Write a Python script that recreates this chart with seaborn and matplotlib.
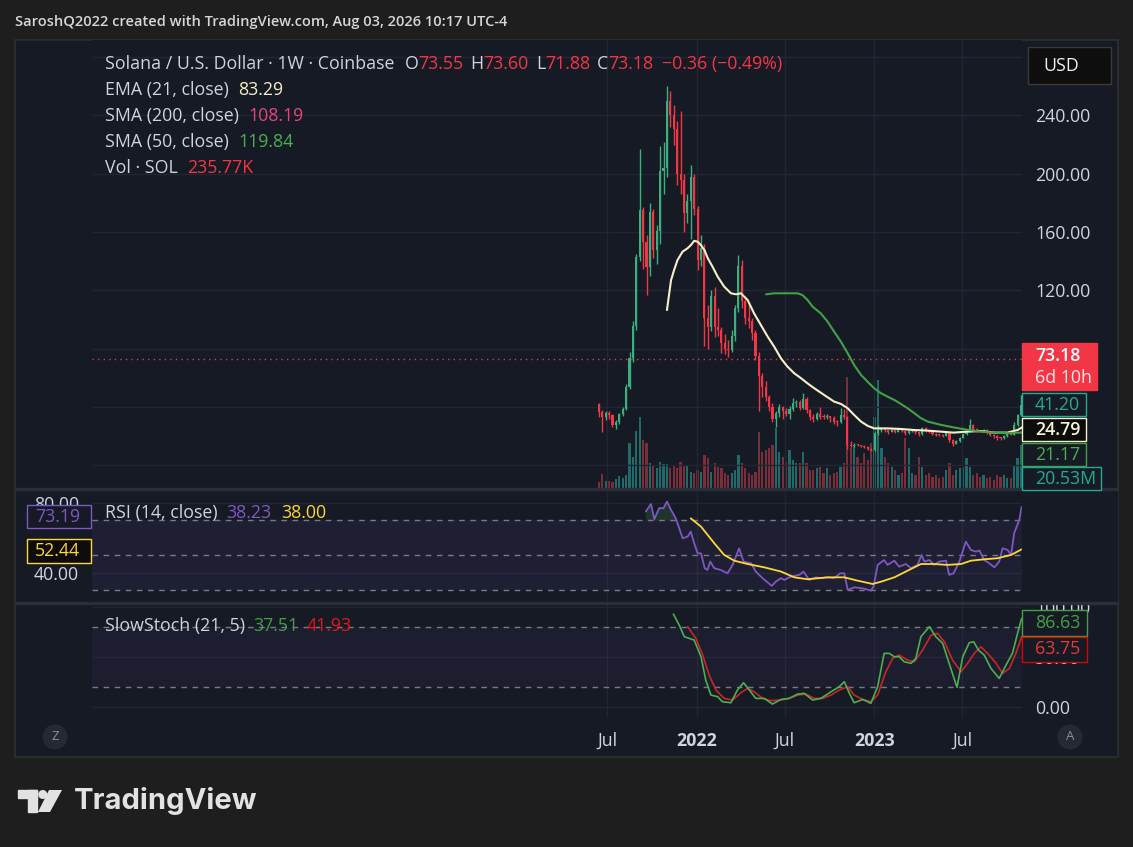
import numpy as np
import pandas as pd
import matplotlib
matplotlib.use("Agg")
import matplotlib.pyplot as plt
import seaborn as sns
from matplotlib.patches import Rectangle, Ellipse, Polygon

# weekly SOL/USD candles (Coinbase), week 0 = 2021-06-14
start_date = "2021-06-14"
first_open = 41.8
closes = [36.8, 33.0, 36.0, 34.5, 27.6, 29.8, 35.0, 38.6, 54.0, 73.3, 95.8, 143, 175, 153, 136, 174, 148, 161, 202, 204,
          250, 240, 231, 200, 196, 173, 181, 198, 176, 141, 149, 101, 95, 116, 95, 93, 84, 80, 79, 89,
          108, 137, 113, 101, 99, 91, 75, 61, 54, 47, 40, 31.5, 35.6, 40, 37, 35, 38.5, 42.5, 43.6, 39.5,
          45.5, 38, 33.4, 31.7, 35.4, 33.4, 33, 33.8, 32.2, 30, 29.8, 34.5, 33, 14, 13.3, 14, 13.8, 13.3, 12.5, 11.5,
          10.2, 22, 24.5, 25.5, 24, 23, 24.5, 23, 24.5, 23.5, 22, 23.5, 24.5, 22.5, 21.5, 25.5, 24, 22.5, 21.5, 21,
          20.8, 20.4, 22, 17.5, 14.8, 16.5, 19, 21.5, 23, 27.5, 24.5, 24, 23.5, 24.2, 22.5, 21, 20, 19, 18.7, 19.8,
          21.5, 21, 27.5, 34.5, 41.2]
highs = [42.5, 38, 37.5, 37, 35, 31, 36, 40, 56, 78, 99, 145, 217, 177, 158, 180, 176, 165, 219, 222,
         260.5, 257, 247, 236, 243, 200, 186, 206, 200, 178, 158, 152, 110, 120, 122, 108, 95, 90, 86, 93,
         110, 144, 141, 116, 112, 101, 93, 78, 63, 58, 48, 43, 37, 42, 41, 39, 40.5, 46, 45, 44.5,
         49.5, 47, 38.5, 35, 36.5, 40, 35.5, 35, 34, 33.5, 31, 39, 38.5, 33.5, 16.5, 15, 14.8, 14.2, 13.9, 12.9,
         12, 23, 27.5, 26.5, 26, 24.5, 25.5, 25, 25.5, 25, 24, 24, 25, 24.5, 23, 26.5, 26, 24.5, 23, 22,
         21.5, 21.5, 23, 22.5, 17.8, 17, 19.5, 22, 24, 32, 28, 25.5, 24.5, 25, 25, 23, 21.5, 20.5, 19.5, 20.5,
         22, 22.5, 30, 35, 48]
lows = [33, 22.5, 31, 32, 26.5, 25, 28.5, 34, 38, 52, 71, 93, 140, 135, 117, 130, 142, 138, 152, 186,
        198, 232, 220, 192, 186, 160, 166, 155, 172, 134, 137, 81.5, 80, 92, 88, 89, 77, 76.5, 74, 78,
        85, 105, 108, 97, 94, 86, 72, 37, 47, 44, 37, 30, 26, 33, 32, 33.5, 31.5, 37, 40, 38,
        38.5, 36, 31, 30, 31, 32, 31.5, 31.5, 30, 28.5, 27, 29, 31.5, 11, 12.5, 12.8, 12.9, 12.5, 11.7, 10.8,
        9.5, 9.8, 21, 22.5, 23, 21.5, 22.5, 22, 22.5, 22.5, 21, 21.5, 22.5, 21.5, 20, 21, 23, 22, 21, 20,
        20, 19.5, 20, 16, 13.5, 14.5, 16, 18.5, 21, 22.5, 23.5, 23, 22.5, 22.5, 21.5, 20, 19, 17.5, 17.5, 18,
        19.5, 20.5, 20.8, 27, 34]
volume_m = [2.9, 6.7, 3.4, 3.4, 2.9, 4.3, 5.8, 4.8, 6.2, 21.6, 14.9, 27.4, 34.1, 23.0, 21.6, 12.0, 10.6, 9.6, 12.5, 11.5,
            11.5, 9.6, 11.0, 9.6, 12.5, 10.6, 10.6, 7.7, 7.2, 8.6, 7.7, 15.8, 14.4, 7.7, 12.0, 10.1, 9.6, 7.2, 6.2, 7.2,
            8.6, 15.8, 12.0, 9.6, 7.2, 6.2, 7.7, 26.9, 17.3, 18.2, 19.2, 20.6, 28.8, 17.3, 14.9, 12.5, 18.2, 13.4, 12.0, 12.0,
            17.3, 12.0, 8.6, 8.6, 9.6, 10.1, 7.2, 9.6, 6.2, 7.2, 7.7, 10.1, 12.0, 53.3, 19.2, 19.7, 14.9, 12.0, 16.8, 13.4,
            21.6, 34.1, 51.8, 19.2, 14.9, 12.0, 10.1, 8.6, 6.2, 7.2, 24.0, 19.2, 7.2, 6.2, 14.9, 10.1, 6.2, 7.2, 5.3, 6.2,
            4.8, 5.3, 8.6, 12.0, 6.2, 8.6, 9.6, 10.1, 14.4, 10.1, 6.2, 7.2, 5.3, 6.2, 4.8, 5.3, 3.8, 6.2, 5.3, 6.2,
            4.8, 4.8, 11.0, 14.4, 20.6]

ema_week = [20, 21.2, 22.1, 23.1, 24.6, 26, 27, 28, 29, 30, 31, 32, 33.4, 34.9, 36.8, 38.8, 40.3, 41.7, 43.7, 45.6,
            47.6, 49.6, 51.5, 53.5, 55.4, 57.4, 59.4, 61.3, 63.3, 66.2, 69.1, 71.1, 73.1, 75, 77, 79, 80.9, 84.8, 88.7,
            92.6, 96.4, 100.3, 104.2, 108.3, 112.2, 116.1, 120, 123, 124.3]
ema_val = [106.5, 127, 134, 140.8, 146.6, 148.8, 151, 154, 153.4, 151, 147.7, 142, 136.2, 129.4, 122.6, 118, 117.3, 118,
           113.4, 104.2, 96.2, 88.2, 81.4, 73.3, 67.7, 63.1, 59.7, 56.2, 52.8, 48.2, 43.7, 42.1, 39.1, 34.5, 30, 27,
           25.3, 25.3, 24.9, 24.2, 23.8, 23.1, 22.4, 23.1, 23.5, 22.4, 22.4, 24.2, 26]
sma50_week = [49.1, 51.5, 54.5, 58.4, 59.8, 61.3, 62.8, 65.2, 67.2, 69.1, 71.1, 73.1, 75, 77, 78.9, 80.9, 82.9, 84.8,
              86.8, 88.7, 90.7, 92.7, 94.6, 96.6, 100.5, 104.4, 108.3, 112.2, 116.1, 120.1, 124.3]
sma50_val = [117.3, 118, 118, 118, 116.8, 113.4, 108.8, 104.2, 98.5, 91.7, 84.8, 76.8, 68.8, 62, 57.4, 52.8, 49.4, 47.1,
             44.8, 42.1, 39.1, 35.7, 32.3, 30, 27.7, 25.9, 24.3, 23.1, 22.4, 22, 22.5]

rsi_week = [13.8, 15.3, 16.3, 17.7, 19.0, 20.0, 21.2, 22.6, 23.6, 24.6, 26.1, 27.0, 28.0, 29.0, 30.0, 31.1, 31.9, 32.7,
            33.9, 35.8, 37.8, 39.3, 41.2, 42.5, 44.7, 46.1, 48.1, 50.8, 52.0, 53.5, 54.5, 55.9, 57.4, 58.9, 60.1, 61.8,
            63.8, 65.2, 67.2, 69.1, 70.9, 72.1, 73.1, 75.0, 77.5, 79.9, 80.7, 81.9, 83.8, 84.8, 86.8, 88.2, 90.2, 91.7,
            93.6, 94.8, 95.6, 97.1, 98.5, 100.0, 102.0, 102.9, 104.2, 105.9, 107.8, 109.3, 110.8, 111.8, 113.2, 114.7,
            116.2, 117.6, 118.6, 120.1, 121.1, 122.0, 123.5, 124.2]
rsi_val = [75.1, 79.4, 70.7, 77.0, 77.0, 80.8, 76.0, 71.2, 65.5, 59.8, 60.8, 63.6, 57.0, 51.2, 51.2, 42.7, 41.7, 46.5,
           42.7, 41.7, 39.8, 44.6, 54.1, 46.5, 45.5, 40.8, 37.0, 32.6, 35.1, 37.0, 36.0, 37.5, 38.3, 38.9, 40.8, 36.0,
           37.5, 37.0, 37.5, 37.0, 39.8, 39.8, 30.3, 31.8, 31.2, 29.9, 32.2, 44.6, 47.4, 44.6, 47.0, 43.6, 45.1, 42.7,
           44.6, 50.3, 46.5, 47.4, 44.6, 46.5, 47.0, 38.9, 39.8, 46.5, 57.9, 53.1, 52.2, 52.8, 47.4, 45.5,
           43.2, 46.5, 54.1, 53.1, 50.3, 62.7, 70.3, 77.9]
rsi_ma_week = [27.0, 30.0, 33.9, 36.8, 39.8, 43.7, 48.6, 53.5, 57.4, 61.3, 67.2, 72.1, 76.0, 80.4, 82.9, 86.8, 90.7,
               94.6, 98.5, 102.4, 106.4, 109.3, 113.2, 117.1, 121.1, 124.2]
rsi_ma_val = [71.2, 66.5, 57.0, 50.3, 47.0, 45.1, 43.2, 40.8, 37.5, 36.4, 37.5, 37.5, 35.6, 33.7, 35.0, 37.5, 41.3,
              45.1, 45.1, 44.6, 45.1, 47.0, 47.8, 48.4, 50.3, 53.5]

stoch_k_week = [21.9, 23.6, 25.1, 28.0, 30.0, 31.4, 32.9, 34.9, 36.3, 38.8, 40.7, 42.5, 44.2, 46.1, 48.6, 51.0, 53.5,
                55.9, 58.4, 60.3, 62.8, 65.2, 68.2, 70.6, 72.1, 73.6, 75.0, 77.5, 79.9, 81.9, 83.8, 85.3, 86.8, 88.2,
                89.7, 91.7, 93.1, 94.6, 97.1, 99.0, 101.0, 102.9, 105.2, 106.9, 108.8, 110.1, 111.5, 113.2, 115.2,
                117.6, 119.6, 121.5, 123.0, 124.2]
stoch_k_val = [92.5, 81.6, 70.1, 66.8, 50.3, 27.2, 12.3, 10.7, 5.7, 4.7, 17.3, 24.5, 17.3, 9.0, 9.0, 3.4, 8.0, 9.0,
               13.3, 14.0, 7.4, 9.0, 15.6, 20.6, 25.5, 14.0, 4.7, 8.0, 4.1, 20.6, 53.6, 53.6, 50.3, 50.3, 45.3, 43.7,
               48.6, 70.1, 80.0, 70.1, 63.5, 43.7, 20.0, 50.3, 64.1, 65.1, 56.9, 51.9, 38.7, 28.8, 42.0, 53.6, 73.4, 88.2]
stoch_d_week = [26.1, 28.5, 30.5, 32.4, 34.4, 36.8, 39.3, 41.7, 43.7, 45.6, 48.1, 50.5, 53.5, 55.9, 58.4, 60.8, 63.3,
                65.7, 68.2, 70.6, 73.1, 75.0, 77.5, 79.9, 81.9, 84.3, 86.3, 88.2, 90.7, 92.7, 95.1, 97.6, 99.5, 101.5,
                103.9, 106.4, 108.3, 110.3, 112.2, 114.2, 116.7, 118.6, 120.6, 122.5, 124.2]
stoch_d_val = [80.0, 68.4, 51.9, 32.1, 17.3, 9.0, 7.4, 14.6, 19.0, 15.6, 9.0, 6.7, 7.4, 9.0, 12.3, 13.3, 9.0, 9.0,
               12.3, 17.3, 20.6, 12.3, 8.0, 5.7, 12.3, 35.4, 48.6, 51.9, 46.9, 45.3, 56.9, 71.7, 73.4, 65.1, 46.9,
               35.4, 43.7, 53.6, 60.2, 53.6, 43.7, 33.8, 38.7, 53.6, 70.1]

time_dates = ["2021-07-01", "2022-01-01", "2022-07-01", "2023-01-01", "2023-07-01"]
time_labels = ["Jul", "2022", "Jul", "2023", "Jul"]
price_ticks = [0, 40, 80, 120, 160, 200, 240, 280]
price_labels = ["", "", "80.00", "120.00", "160.00", "200.00", "240.00", ""]
last_price = 73.18

# ---- style ----
W, H = 1133, 847
OUTER = "#1e1e1e"
PANE = "#161a25"
GRID = "#222633"
TXT = "#d1d4dc"
UP, DOWN = "#3bb07e", "#f23645"
VUP, VDOWN = "#1f6b69", "#7a2e3a"
TEAL = "#22ab94"
FS = 12.8  # pane text size

sns.set_theme(style="dark", rc={"axes.facecolor": PANE, "figure.facecolor": OUTER,
                                "grid.color": GRID, "text.color": TXT,
                                "xtick.color": TXT, "ytick.color": TXT})
plt.rcParams["font.family"] = ["Open Sans", "DejaVu Sans"]

fig = plt.figure(figsize=(W / 100, H / 100), dpi=100)


def rect(x0, y0, x1, y1):
    return [x0 / W, 1 - y1 / H, (x1 - x0) / W, (y1 - y0) / H]


def fbox(x0, y0, x1, y1, face, edge=None, lw=1.0, z=5):
    fig.add_artist(Rectangle((x0 / W, 1 - y1 / H), (x1 - x0) / W, (y1 - y0) / H, transform=fig.transFigure,
                             facecolor=face, edgecolor=edge if edge else face, lw=lw, zorder=z))


def ftext(x, y, s, color=TXT, size=FS, ha="left", weight="normal", z=6, **kw):
    return fig.text(x / W, 1 - y / H, s, color=color, fontsize=size, ha=ha, va="center",
                    fontweight=weight, zorder=z, **kw)


renderer = fig.canvas.get_renderer()


def runs(x, y, parts, size=FS):
    for s, col, gap in parts:
        t = ftext(x, y, s, col, size)
        x += t.get_window_extent(renderer).width + gap


# chart frame
fbox(15, 40, 1118, 757, PANE, "#2e2f33", lw=1.2, z=-1)

weeks = np.arange(len(closes))
opens = [first_open] + closes[:-1]
start = pd.Timestamp(start_date)
tick_pos = [(pd.Timestamp(d) - start).days / 7 for d in time_dates]
xlim = (-148.9, 124.3)

main_r = rect(92, 40, 1022, 488)
ax_vol = fig.add_axes(main_r)
ax_main = fig.add_axes(main_r)
ax_rsi = fig.add_axes(rect(92, 490, 1022, 602))
ax_sto = fig.add_axes(rect(92, 604, 1022, 718))

for ax in (ax_vol, ax_main, ax_rsi, ax_sto):
    ax.set_xlim(*xlim)
    for sp in ax.spines.values():
        sp.set_visible(False)
ax_main.patch.set_alpha(0)

# volume
vcols = [VUP if c >= o else VDOWN for o, c in zip(opens, closes)]
ax_vol.bar(weeks, volume_m, width=0.65, color=vcols, linewidth=0)
ax_vol.set_ylim(0, 215)
ax_vol.set_xticks([])
ax_vol.set_yticks([])

# candles
ccols = [UP if c >= o else DOWN for o, c in zip(opens, closes)]
body_lo = np.minimum(opens, closes)
body_h = np.maximum(np.abs(np.array(closes) - np.array(opens)), 0.6)
ax_main.vlines(weeks, lows, highs, colors=ccols, lw=1, zorder=3)
ax_main.bar(weeks, body_h, bottom=body_lo, width=0.62, color=ccols, linewidth=0, zorder=4)
sns.lineplot(x=ema_week, y=ema_val, ax=ax_main, color="#f7efc8", lw=1.5, sort=False, estimator=None, zorder=5)
sns.lineplot(x=sma50_week, y=sma50_val, ax=ax_main, color="#43a047", lw=1.5, sort=False, estimator=None, zorder=5)
ax_main.axhline(last_price, color=DOWN, ls=(0, (1, 3)), lw=1, zorder=2)
ax_main.set_ylim(-15.6, 291.8)
ax_main.yaxis.tick_right()
ax_main.set_yticks(price_ticks, price_labels)
ax_main.set_xticks(tick_pos, [""] * len(tick_pos))
ax_main.tick_params(axis="y", length=0, pad=9.5, labelsize=FS, colors=TXT)
ax_main.tick_params(axis="x", length=0)
ax_main.grid(True, color=GRID, lw=1)
ax_main.set_xlabel("")
ax_main.set_ylabel("")

# RSI
ax_rsi.axhspan(30, 70, color="#7e57c2", alpha=0.09, lw=0)
for lvl in (70, 50, 30):
    ax_rsi.axhline(lvl, color="#787b86", ls=(0, (4, 4)), lw=1)
rv = np.array(rsi_val)
ax_rsi.fill_between(rsi_week, rv, 70, where=rv > 70, interpolate=True, color="#4caf50", alpha=0.18, lw=0)
sns.lineplot(x=rsi_week, y=rsi_val, ax=ax_rsi, color="#7e57c2", lw=1.3, sort=False, estimator=None)
sns.lineplot(x=rsi_ma_week, y=rsi_ma_val, ax=ax_rsi, color="#fdd835", lw=1.3, sort=False, estimator=None)
ax_rsi.set_ylim(23.4, 87.4)
ax_rsi.yaxis.tick_left()
ax_rsi.set_yticks([40, 80], ["40.00", "80.00"])
ax_rsi.set_xticks(tick_pos, [""] * len(tick_pos))
ax_rsi.tick_params(axis="y", length=0, pad=9.5, labelsize=FS, colors=TXT)
ax_rsi.tick_params(axis="x", length=0)
ax_rsi.grid(True, color=GRID, lw=1)
ax_rsi.set_xlabel("")
ax_rsi.set_ylabel("")

# Slow stochastic
ax_sto.axhspan(20, 80, color="#7e57c2", alpha=0.06, lw=0)
for lvl in (80, 20):
    ax_sto.axhline(lvl, color="#787b86", ls=(0, (4, 4)), lw=1)
sns.lineplot(x=stoch_d_week, y=stoch_d_val, ax=ax_sto, color="#c62828", lw=1.2, sort=False, estimator=None)
sns.lineplot(x=stoch_k_week, y=stoch_k_val, ax=ax_sto, color="#4caf50", lw=1.2, sort=False, estimator=None)
ax_sto.set_ylim(-10.4, 102.5)
ax_sto.yaxis.tick_right()
ax_sto.set_yticks([0, 50, 100], ["0.00", "50.00", "100.00"])
ax_sto.set_xticks(tick_pos, time_labels)
ax_sto.tick_params(axis="y", length=0, pad=9.5, labelsize=FS, colors=TXT)
ax_sto.tick_params(axis="x", length=0, pad=10, labelsize=FS, colors=TXT)
for lbl in ax_sto.get_xticklabels():
    if lbl.get_text().isdigit():
        lbl.set_fontweight("bold")
ax_sto.grid(True, color=GRID, lw=1)
ax_sto.set_xlabel("")
ax_sto.set_ylabel("")

# right strip beside the RSI pane stays empty; pane separators
fbox(1022, 490, 1117, 602.5, PANE, z=1)
for ys in (489, 603):
    fbox(15, ys - 0.7, 1118, ys + 0.7, "#2a2e39", z=2)

# header and pane legends
ftext(15, 22, "SaroshQ2022 created with TradingView.com, Aug 03, 2026 10:17 UTC-4", "#d6d6d6", 10.5, weight="semibold")
runs(105, 64, [("Solana / U.S. Dollar · 1W · Coinbase", TXT, 10), ("O", TXT, 0), ("73.55", DOWN, 7),
               ("H", TXT, 0), ("73.60", DOWN, 7), ("L", TXT, 0), ("71.88", DOWN, 7), ("C", TXT, 0),
               ("73.18", DOWN, 9), ("\u22120.36 (\u22120.49%)", DOWN, 0)])
runs(105, 90, [("EMA (21, close)", TXT, 9), ("83.29", "#f7efc8", 0)])
runs(105, 116, [("SMA (200, close)", TXT, 9), ("108.19", "#e8457a", 0)])
runs(105, 142, [("SMA (50, close)", TXT, 9), ("119.84", "#4caf50", 0)])
runs(105, 168, [("Vol · SOL", TXT, 9), ("235.77K", DOWN, 0)])
runs(105, 513, [("RSI (14, close)", TXT, 9), ("38.23", "#7e57c2", 9), ("38.00", "#fdd835", 0)])
runs(105, 626, [("SlowStoch (21, 5)", TXT, 8), ("37.51", "#43a047", 8), ("41.93", "#e5151b", 0)])

# USD selector
fbox(1028, 47, 1111, 84, "#0e0e0e", "#3a3a3a", lw=1)
ftext(1043, 66, "USD", "#f0f0f0", FS)

# price tags
fbox(1022, 343, 1097, 390, DOWN, z=5)
ftext(1035, 356, "73.18", "#ffffff", FS, weight="semibold")
ftext(1035, 378, "6d 10h", "#ffe3e6", FS)
fbox(1022, 393, 1086, 416, PANE, TEAL)
ftext(1035, 404.5, "41.20", TEAL)
fbox(1022, 418, 1086, 441, "#0c0c0c", "#f7efc8")
ftext(1035, 429.5, "24.79", "#fbf4d2", weight="semibold")
fbox(1022, 443, 1086, 466, PANE, "#43a047")
ftext(1035, 454.5, "21.17", "#4caf50")
fbox(1022, 467, 1101, 490, PANE, TEAL)
ftext(1035, 479, "20.53M", TEAL)
fbox(27, 505, 91, 528, PANE, "#7e57c2")
ftext(35, 516.5, "73.19", "#7e57c2")
fbox(27, 539, 91, 563, "#0c0c0c", "#fdd835")
ftext(35, 551, "52.44", "#fdd835")
fbox(1022, 610, 1087, 636, PANE, "#43a047")
ftext(1035, 623, "86.63", "#43a047")
fbox(1022, 637, 1087, 662, PANE, "#e00000")
ftext(1035, 649.5, "63.75", "#e53935")

# scale buttons
for cx, letter in ((55, "Z"), (1070, "A")):
    fig.add_artist(Ellipse((cx / W, 1 - 737 / H), 25 / W, 25 / H, transform=fig.transFigure,
                           facecolor="#262932", edgecolor="none", zorder=5))
    ftext(cx, 737, letter, "#8c8f96", 9.5, ha="center")

# TradingView logo
LOGO = "#e2e2e2"
fbox(18, 790, 37, 798, LOGO, z=5)
fbox(28, 790, 37, 812, LOGO, z=5)
fig.add_artist(Ellipse((42.8 / W, 1 - 794.5 / H), 9 / W, 9 / H, transform=fig.transFigure,
                       facecolor=LOGO, edgecolor="none", zorder=5))
fig.add_artist(Polygon([(49 / W, 1 - 790 / H), (62 / W, 1 - 790 / H), (50 / W, 1 - 812 / H), (38 / W, 1 - 812 / H)],
                       closed=True, transform=fig.transFigure, facecolor=LOGO, edgecolor="none", zorder=5))
fig.text(74 / W, 1 - 801 / H, "TradingView", color=LOGO, fontsize=21, fontweight="bold", va="center",
         ha="left", family=["Inter", "Lato", "DejaVu Sans"])

fig.savefig("out.png", dpi=100, facecolor=OUTER)
